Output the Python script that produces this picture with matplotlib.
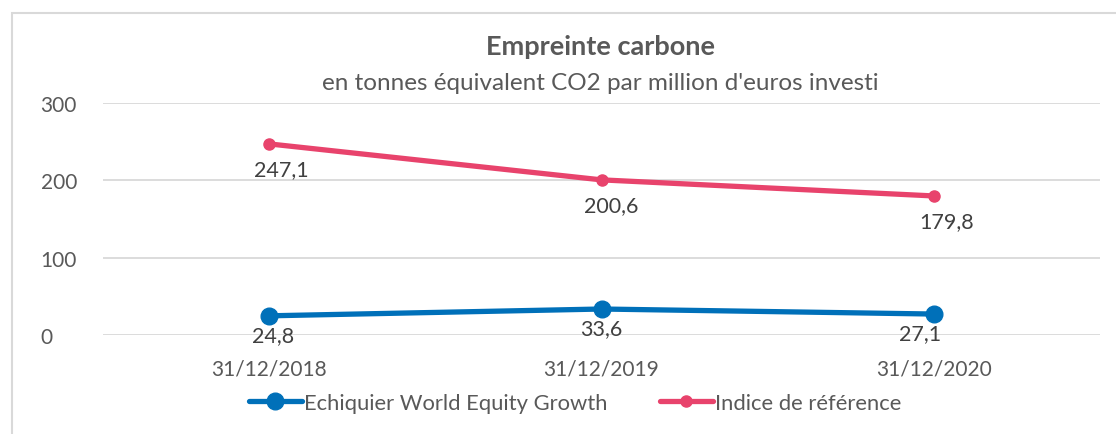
import matplotlib.pyplot as plt
from matplotlib.patches import Rectangle

plt.rcParams['font.family'] = ['Lato', 'DejaVu Sans']

dates = ["31/12/2018", "31/12/2019", "31/12/2020"]
fund = [24.8, 33.6, 27.1]
index_ref = [247.1, 200.6, 179.8]
fund_name = "Echiquier World Equity Growth"
index_name = "Indice de référence"

BLUE = "#0070B9"
PINK = "#E8436C"
GREY = "#595959"

# label nudges (points), as placed by hand in the original
index_dx = [9, 7, 9]
fund_dx = [3, 0, -10]

W, H = 1116, 435
fig = plt.figure(figsize=(W / 100, H / 100), dpi=100)
fig.patches.append(Rectangle((12 / W, -0.1), 1.2, 1.1 - 14 / H, transform=fig.transFigure,
                             fill=False, edgecolor="#D9D9D9", linewidth=1.5))

ax = fig.add_axes([103 / W, 1 - 336 / H, (1100 - 103) / W, (336 - 104) / H])
x = range(len(dates))
ax.plot(x, index_ref, color=PINK, lw=3.8, marker="o", ms=8, label=index_name,
        solid_capstyle="round")
ax.plot(x, fund, color=BLUE, lw=3.8, marker="o", ms=12, label=fund_name,
        solid_capstyle="round")

for i, v in enumerate(index_ref):
    ax.annotate(f"{v:.1f}".replace(".", ","), (i, v), xytext=(index_dx[i], -18),
                textcoords="offset points", ha="center", va="center", fontsize=15.5, color="#404040")
for i, v in enumerate(fund):
    ax.annotate(f"{v:.1f}".replace(".", ","), (i, v), xytext=(fund_dx[i], -14),
                textcoords="offset points", ha="center", va="center", fontsize=15.5, color="#404040")

ax.set_xlim(-0.5, 2.5)
ax.set_ylim(0, 300)
ax.set_yticks([0, 100, 200, 300])
ax.set_xticks(list(x))
ax.set_xticklabels(dates)
ax.tick_params(axis="both", length=0, labelsize=15, labelcolor=GREY)
ax.tick_params(axis="x", pad=17)
ax.tick_params(axis="y", pad=45)
for lbl in ax.get_yticklabels():
    lbl.set_horizontalalignment("left")
ax.grid(axis="y", color="#D9D9D9", lw=1.3)
ax.set_axisbelow(True)
for s in ax.spines.values():
    s.set_visible(False)

fig.text(600 / W, 1 - 47 / H, "Empreinte carbone", ha="center", va="center",
         fontsize=19.5, fontweight="bold", color=GREY)
fig.text(600 / W, 1 - 83 / H, "en tonnes équivalent CO2 par million d'euros investi",
         ha="center", va="center", fontsize=17.5, color=GREY)

h, l = ax.get_legend_handles_labels()
fig.legend(h[::-1], l[::-1], loc="center", bbox_to_anchor=(575 / W, 1 - 404 / H), ncol=2,
           frameon=False, fontsize=15.8, labelcolor=GREY, handlelength=2.4, handletextpad=0.1,
           columnspacing=2.4)

fig.savefig("out.png", dpi=100)
